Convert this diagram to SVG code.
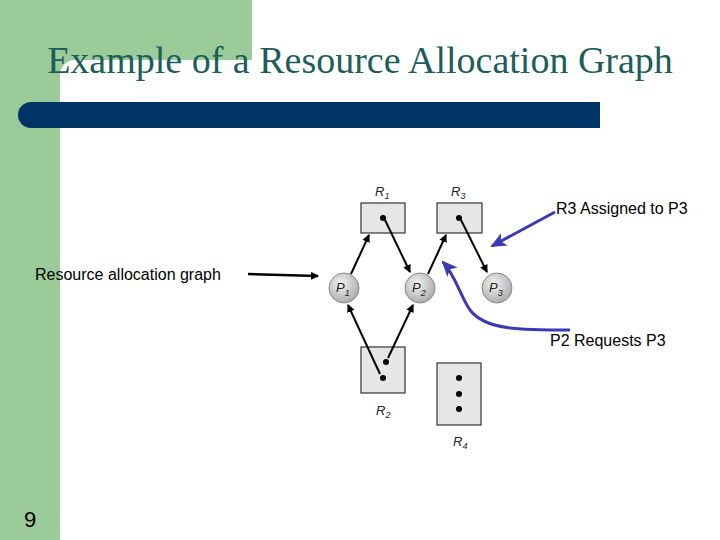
<svg xmlns="http://www.w3.org/2000/svg" width="720" height="540" viewBox="0 0 720 540">
<defs>
<marker id="ah" markerWidth="8" markerHeight="8" refX="7" refY="4" orient="auto" markerUnits="userSpaceOnUse"><path d="M0,0 L8,4 L0,8 Z" fill="#000"/></marker>
<marker id="bh" markerWidth="16" markerHeight="14" refX="14" refY="7" orient="auto" markerUnits="userSpaceOnUse"><path d="M0,0 L16,7 L0,14 L4,7 Z" fill="#3a3ab8"/></marker>
<radialGradient id="pg" cx="0.4" cy="0.35" r="0.7"><stop offset="0" stop-color="#f2f2f2"/><stop offset="1" stop-color="#a8a8a8"/></radialGradient>
</defs>
<style>
.lbl{font-family:"Liberation Sans",Arial,sans-serif;font-size:16px;fill:#000}
.it{font-family:"Liberation Sans",Arial,sans-serif;font-style:italic;font-size:13px;fill:#222}
.sub{font-size:9px}
.res{fill:#e6e6e6;stroke:#333;stroke-width:1.2}
.proc{fill:url(#pg);stroke:#888;stroke-width:1}
.e{stroke:#000;stroke-width:2;fill:none;marker-end:url(#ah)}
.b{stroke:#3a3ab8;stroke-width:3;fill:none;marker-end:url(#bh)}
</style>
<rect width="720" height="540" fill="#fff"/>
<rect x="0" y="0" width="252" height="60" fill="#9ccb9a"/>
<rect x="0" y="0" width="60" height="540" fill="#9ccb9a"/>
<path d="M60,60 L75,60 A15,15 0 0 0 60,75 Z" fill="#9ccb9a"/>
<path d="M31,102 L600,102 L600,128 L31,128 A13,13 0 0 1 31,102 Z" fill="#003366"/>
<text x="360" y="73" text-anchor="middle" font-family="Liberation Serif,Times New Roman,serif" font-size="38" fill="#1b5e5a">Example of a Resource Allocation Graph</text>
<text x="30" y="527" text-anchor="middle" font-family="Liberation Sans,Arial,sans-serif" font-size="22" fill="#000">9</text>
<g id="R1"><rect class="res" x="361" y="203" width="44" height="30"/><circle cx="383" cy="218" r="3"/><text class="it" x="375" y="196">R<tspan class="sub" dy="3">1</tspan></text></g>
<g id="R3"><rect class="res" x="437" y="203" width="45" height="30"/><circle cx="459" cy="218" r="3"/><text class="it" x="451" y="196">R<tspan class="sub" dy="3">3</tspan></text></g>
<g id="R2"><rect class="res" x="361" y="347" width="44" height="46"/><circle cx="386" cy="362" r="3"/><circle cx="383" cy="378" r="3"/><text class="it" x="376" y="415">R<tspan class="sub" dy="3">2</tspan></text></g>
<g id="R4"><rect class="res" x="437" y="363" width="44" height="62"/><circle cx="459" cy="378" r="3"/><circle cx="459" cy="394" r="3"/><circle cx="459" cy="409" r="3"/><text class="it" x="453" y="446">R<tspan class="sub" dy="3">4</tspan></text></g>
<g id="P1"><circle class="proc" cx="344" cy="288" r="15"/><text class="it" x="336" y="292">P<tspan class="sub" dy="4">1</tspan></text></g>
<g id="P2"><circle class="proc" cx="420" cy="288" r="15"/><text class="it" x="412" y="292">P<tspan class="sub" dy="4">2</tspan></text></g>
<g id="P3"><circle class="proc" cx="497" cy="288" r="15"/><text class="it" x="489" y="292">P<tspan class="sub" dy="4">3</tspan></text></g>
<g id="connectors">
<line class="e" x1="351" y1="274" x2="369" y2="235"/>
<line class="e" x1="385" y1="220" x2="410" y2="272"/>
<line class="e" x1="428" y1="274" x2="446" y2="235"/>
<line class="e" x1="461" y1="220" x2="487" y2="272"/>
<line class="e" x1="380" y1="374" x2="348" y2="305"/>
<line class="e" x1="388" y1="358" x2="413" y2="305"/>
<line x1="248" y1="274" x2="318" y2="276" stroke="#000" stroke-width="2.5" marker-end="url(#ah)"/>
<line class="b" x1="555" y1="212" x2="492" y2="246"/>
<path class="b" d="M570,330 C520,330 485,330 470,310 C460,295 455,275 443,262"/>
</g>
<text class="lbl" x="556" y="214">R3 Assigned to P3</text>
<text class="lbl" x="35" y="280">Resource allocation graph</text>
<text class="lbl" x="550" y="346">P2 Requests P3</text>
</svg>
